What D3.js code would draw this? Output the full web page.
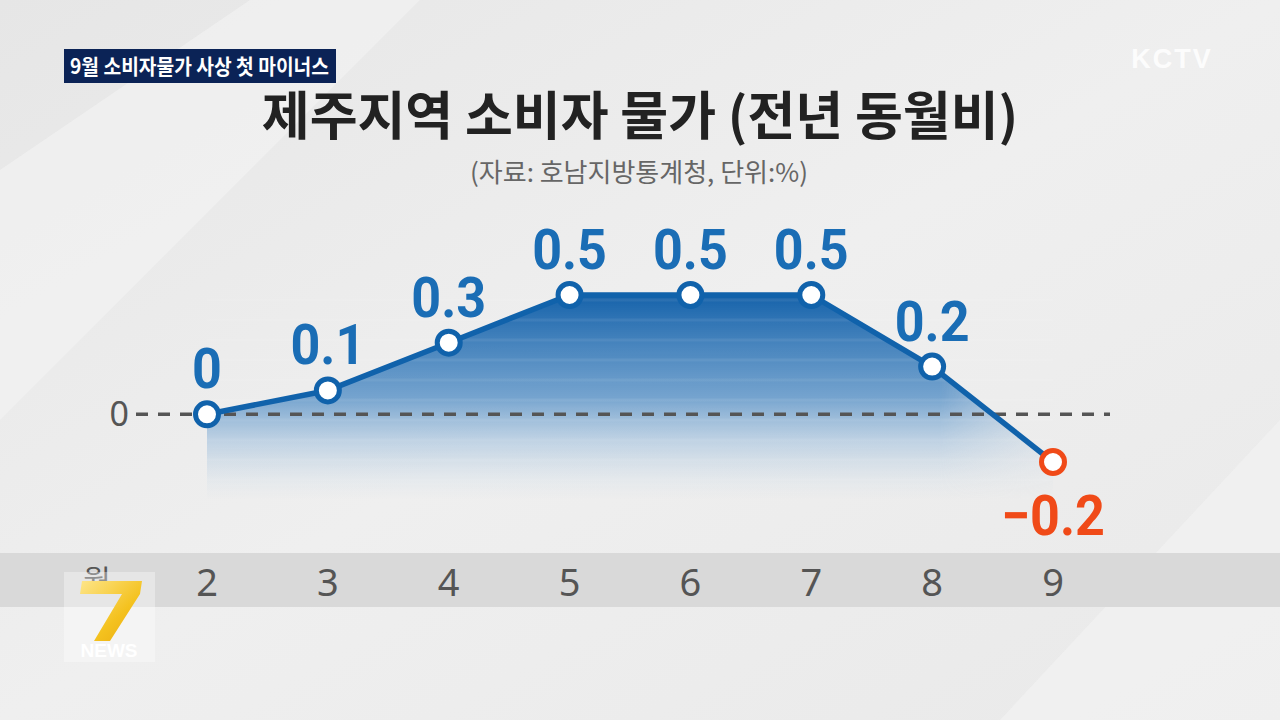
<!DOCTYPE html>
<html><head><meta charset="utf-8">
<script src="https://cdn.jsdelivr.net/npm/d3@7/dist/d3.min.js"></script>
<style>body{margin:0;background:#ececec;overflow:hidden}svg{display:block}</style>
</head><body>
<svg id="c" width="1280" height="720"></svg>
<script>
const months = ["2","3","4","5","6","7","8","9"];
const values = [0, 0.1, 0.3, 0.5, 0.5, 0.5, 0.2, -0.2];
const valueLabels = ["0","0.1","0.3","0.5","0.5","0.5","0.2","−0.2"];
const title = "제주지역 소비자 물가 (전년 동월비)";
const subtitle = "(자료: 호남지방통계청, 단위:%)";
const banner = "9월 소비자물가 사상 첫 마이너스";
const zeroTick = ["0"];

const svg = d3.select("#c");
const font = "'Noto Sans CJK KR','Noto Sans',sans-serif";
const defs = svg.append("defs");

// background
const bg = defs.append("linearGradient").attr("id","bg").attr("x1",0).attr("y1",0).attr("x2",1).attr("y2",1);
bg.append("stop").attr("offset",0).attr("stop-color","#e6e6e6");
bg.append("stop").attr("offset",0.5).attr("stop-color","#efefef");
bg.append("stop").attr("offset",1).attr("stop-color","#e9e9e9");
svg.append("rect").attr("width",1280).attr("height",720).attr("fill","url(#bg)");
svg.append("polygon").attr("points","0,420 0,170 250,0 420,0").attr("fill","#f3f3f3").attr("opacity",0.6);
svg.append("polygon").attr("points","1000,720 1280,420 1280,720").attr("fill","#f4f4f4").attr("opacity",0.6);

const x = d3.scalePoint().domain(months).range([207, 1053]);
const y = d3.scaleLinear().domain([-0.2, 0.5]).range([462, 295]);

// area gradient
const ag = defs.append("linearGradient").attr("id","ag").attr("x1",0).attr("x2",0)
  .attr("gradientUnits","userSpaceOnUse").attr("y1",295).attr("y2",500);
ag.append("stop").attr("offset",0).attr("stop-color","#1562aa").attr("stop-opacity",1);
ag.append("stop").attr("offset",0.5).attr("stop-color","#5690c6").attr("stop-opacity",0.8);
ag.append("stop").attr("offset",1).attr("stop-color","#c9dcec").attr("stop-opacity",0.0);
const mg = defs.append("linearGradient").attr("id","mg").attr("x1",0).attr("x2",1).attr("y1",0).attr("y2",0);
mg.append("stop").attr("offset",0).attr("stop-color","#fff").attr("stop-opacity",1);
mg.append("stop").attr("offset",0.85).attr("stop-color","#fff").attr("stop-opacity",1);
mg.append("stop").attr("offset",1).attr("stop-color","#fff").attr("stop-opacity",0.2);
defs.append("mask").attr("id","am").append("rect").attr("x",200).attr("y",280).attr("width",870).attr("height",230).attr("fill","url(#mg)");

const data = months.map((m,i)=>({m, v:values[i], l:valueLabels[i]}));
const area = d3.area().x(d=>x(d.m)).y0(500).y1(d=>y(d.v));
svg.append("path").datum(data).attr("d",area).attr("fill","url(#ag)").attr("mask","url(#am)");

// faint horizontal stripes over area
for (let i=0;i<10;i++){
  svg.append("line").attr("x1",207).attr("x2",1053).attr("y1",300+i*20).attr("y2",300+i*20)
    .attr("stroke","#ffffff").attr("stroke-opacity",0.07).attr("stroke-width",3);
}

// zero line
svg.append("line").attr("x1",136).attr("x2",1110).attr("y1",y(0)).attr("y2",y(0))
  .attr("stroke","#555").attr("stroke-width",3.5).attr("stroke-dasharray","12,10");
svg.selectAll(".zt").data(zeroTick).enter().append("text")
  .attr("x",129).attr("y",y(0)+12).attr("text-anchor","end")
  .attr("font-family","'Noto Sans',sans-serif").attr("font-size",34).attr("fill","#555").text(d=>d);

// line
svg.append("path").datum(data).attr("d",d3.line().x(d=>x(d.m)).y(d=>y(d.v)))
  .attr("fill","none").attr("stroke","#1062ab").attr("stroke-width",5.5).attr("stroke-linejoin","round");

// markers
svg.selectAll(".pt").data(data).enter().append("circle")
  .attr("cx",d=>x(d.m)).attr("cy",d=>y(d.v)).attr("r",11.5)
  .attr("fill","#fff").attr("stroke",d=>d.v<0?"#f04a18":"#1062ab").attr("stroke-width",5);

// value labels
svg.selectAll(".vl").data(data).enter().append("text")
  .attr("x",d=>x(d.m)).attr("y",d=>d.v<0? y(d.v)+73 : y(d.v)-26)
  .attr("text-anchor","middle").attr("font-family","Roboto,'Liberation Sans',sans-serif").attr("font-weight","bold")
  .attr("font-size",56).attr("fill",d=>d.v<0?"#f04a18":"#1a6db5")
  .attr("transform",d=>`translate(${x(d.m)},0) scale(0.93,1) translate(${-x(d.m)},0)`).text(d=>d.l);

// month band
svg.append("rect").attr("x",0).attr("y",553).attr("width",1280).attr("height",54).attr("fill","#d9d9d9");
svg.selectAll(".mt").data(months).enter().append("text")
  .attr("x",d=>x(d)).attr("y",596).attr("text-anchor","middle")
  .attr("font-family","'Noto Sans',sans-serif").attr("font-size",38).attr("fill","#555").text(d=>d);
svg.append("text").attr("x",97).attr("y",591).attr("text-anchor","middle")
  .attr("font-family",font).attr("font-size",30).attr("fill","#555").text("월");

// title
svg.append("text").attr("x",640).attr("y",135).attr("text-anchor","middle")
  .attr("font-family",font).attr("font-weight","bold").attr("font-size",52).attr("fill","#222").text(title);
svg.append("text").attr("x",639).attr("y",182).attr("text-anchor","middle")
  .attr("font-family",font).attr("font-size",26).attr("fill","#666").text(subtitle);

// banner
svg.append("rect").attr("x",64).attr("y",49).attr("width",272).attr("height",34).attr("fill","#0b2356");
svg.append("text").attr("x",70).attr("y",74)
  .attr("font-family",font).attr("font-weight","bold").attr("font-size",21).attr("fill","#fff")
  .attr("textLength",259).attr("lengthAdjust","spacingAndGlyphs").text(banner);

// KCTV logo
svg.append("text").attr("x",1172).attr("y",68).attr("text-anchor","middle")
  .attr("font-family","'Liberation Sans',sans-serif").attr("font-weight","bold").attr("font-size",27)
  .attr("fill","#fff").attr("fill-opacity",0.85).attr("letter-spacing",2).text("KCTV");

// 7 NEWS logo (7 drawn as a shape)
const yg = defs.append("linearGradient").attr("id","yg").attr("x1",0).attr("y1",0).attr("x2",1).attr("y2",1);
yg.append("stop").attr("offset",0).attr("stop-color","#fde58a");
yg.append("stop").attr("offset",0.6).attr("stop-color","#f4c21f");
yg.append("stop").attr("offset",1).attr("stop-color","#e9a80e");
svg.append("rect").attr("x",64).attr("y",572).attr("width",91).attr("height",90).attr("fill","#fff").attr("fill-opacity",0.35);
svg.append("polygon").attr("points","82,581 142,581 140,594 110,641 94,641 122,594 80,594")
  .attr("fill","url(#yg)");
svg.append("text").attr("x",109).attr("y",657).attr("text-anchor","middle")
  .attr("font-family","'Liberation Sans',sans-serif").attr("font-weight","bold")
  .attr("font-size",19).attr("fill","#fff").text("NEWS");
</script>
</body></html>
